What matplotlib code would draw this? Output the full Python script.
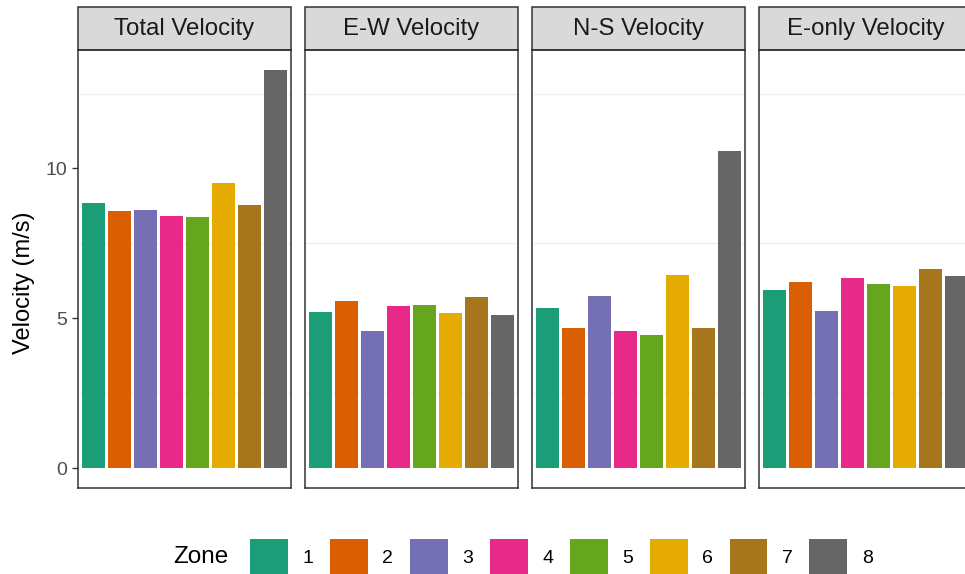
import matplotlib
matplotlib.use("Agg")
import matplotlib.pyplot as plt
from matplotlib.patches import Rectangle, Patch
import numpy as np

plt.rcParams["font.family"] = ["Liberation Sans", "DejaVu Sans"]

# data
zones = ["1", "2", "3", "4", "5", "6", "7", "8"]
panels = ["Total Velocity", "E-W Velocity", "N-S Velocity", "E-only Velocity"]
total_v = [8.86, 8.58, 8.61, 8.43, 8.38, 9.52, 8.78, 13.29]
ew_v = [5.22, 5.58, 4.59, 5.40, 5.46, 5.18, 5.71, 5.10]
ns_v = [5.35, 4.68, 5.76, 4.56, 4.44, 6.45, 4.68, 10.60]
eonly_v = [5.93, 6.21, 5.24, 6.35, 6.16, 6.07, 6.66, 6.40]
series = [total_v, ew_v, ns_v, eonly_v]

colors = ["#1B9E77", "#D95F02", "#7570B3", "#E7298A",
          "#66A61E", "#E6AB02", "#A6761D", "#666666"]

W, H = 965, 574
fig = plt.figure(figsize=(W / 100, H / 100), dpi=100)

ymax = max(max(s) for s in series)
ylim = (-0.05 * ymax, 1.05 * ymax)
x = np.arange(1, len(zones) + 1)

# panel geometry in pixels (ggplot facet_wrap look)
p_left0, p_step, p_w = 78, 227, 213
p_top, p_bot = 50, 488
strip_h = 43

axes = []
for i, (name, vals) in enumerate(zip(panels, series)):
    left = p_left0 + i * p_step
    ax = fig.add_axes([left / W, 1 - p_bot / H, p_w / W, (p_bot - p_top) / H])
    for yg in [2.5, 7.5, 12.5]:
        ax.axhline(yg, color="#EFEFEF", lw=0.9, zorder=0)
    ax.bar(x, vals, width=0.9, color=colors, zorder=2)
    ax.set_xlim(0.4, 8.6)
    ax.set_ylim(*ylim)
    ax.set_xticks([])
    ax.set_yticks([0, 5, 10])
    for sp in ax.spines.values():
        sp.set_color("#333333")
        sp.set_linewidth(1.1)
    if i == 0:
        ax.tick_params(axis="y", length=4.5, width=1.0, color="#333333",
                       labelcolor="#4D4D4D", labelsize=14, pad=3)
    else:
        ax.tick_params(axis="y", length=0, labelleft=False)
    # strip
    ax.add_patch(Rectangle((0, 1), 1, strip_h / (p_bot - p_top),
                           transform=ax.transAxes, clip_on=False,
                           facecolor="#D9D9D9", edgecolor="#333333", lw=1.1))
    ax.text(0.5, 1 + strip_h / 2 / (p_bot - p_top), name, transform=ax.transAxes,
            ha="center", va="center", fontsize=17.3, color="#1A1A1A")
    axes.append(ax)

fig.text(24 / W, 1 - 283 / H, "Velocity (m/s)", rotation=90,
         ha="center", va="center", fontsize=17, color="black")

# legend
handles = [Patch(facecolor=c, edgecolor="none") for c in colors]
fig.text(173 / W, 1 - 557 / H, "Zone", ha="left", va="center",
         fontsize=17.5, color="black")
fig.legend(handles, zones, ncol=8, frameon=False, loc="center left",
           bbox_to_anchor=(250 / W, 1 - 557 / H), borderaxespad=0, borderpad=0,
           handlelength=1.95, handleheight=2.5, handletextpad=0.75,
           columnspacing=0.85, fontsize=14)

plt.savefig("out.png", dpi=100)
